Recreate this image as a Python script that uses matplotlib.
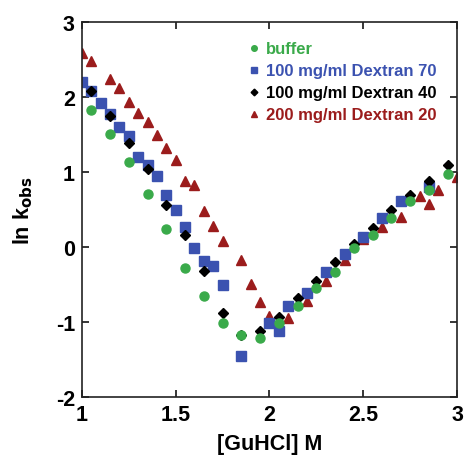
import matplotlib
matplotlib.use("Agg")
import matplotlib.pyplot as plt

plt.rcParams["font.family"] = ["Liberation Sans", "DejaVu Sans"]
plt.rcParams["font.weight"] = "bold"
plt.rcParams["axes.unicode_minus"] = False

# Unfolding rates, ln k_obs vs denaturant concentration
buffer_x = [1.05, 1.15, 1.25, 1.35, 1.45, 1.55, 1.65, 1.75, 1.85, 1.95, 2.05, 2.15,
            2.25, 2.35, 2.45, 2.55, 2.65, 2.75, 2.85, 2.95]
buffer_y = [1.82, 1.50, 1.13, 0.70, 0.24, -0.28, -0.66, -1.01, -1.17, -1.21, -1.02, -0.79,
            -0.55, -0.34, -0.01, 0.16, 0.38, 0.61, 0.75, 0.97]

dex70_x = [1.0, 1.05, 1.1, 1.15, 1.2, 1.25, 1.3, 1.35, 1.4, 1.45, 1.5, 1.55, 1.6, 1.65,
           1.7, 1.75, 1.85, 2.0, 2.05, 2.1, 2.2, 2.3, 2.4, 2.5, 2.6, 2.7, 2.85]
dex70_y = [2.20, 2.07, 1.92, 1.77, 1.59, 1.48, 1.20, 1.09, 0.94, 0.69, 0.49, 0.26, -0.01, -0.19,
           -0.25, -0.51, -1.45, -1.02, -1.12, -0.79, -0.62, -0.34, -0.10, 0.13, 0.38, 0.61, 0.80]

dex40_x = [1.05, 1.15, 1.25, 1.35, 1.45, 1.55, 1.65, 1.75, 1.85, 1.95, 2.05, 2.15,
           2.25, 2.35, 2.45, 2.55, 2.65, 2.75, 2.85, 2.95]
dex40_y = [2.08, 1.74, 1.38, 1.04, 0.55, 0.15, -0.32, -0.88, -1.17, -1.12, -0.93, -0.68,
           -0.46, -0.20, 0.04, 0.25, 0.49, 0.69, 0.87, 1.09]

dex20_x = [1.0, 1.05, 1.15, 1.2, 1.25, 1.3, 1.35, 1.4, 1.45, 1.5, 1.55, 1.6, 1.65, 1.7,
           1.75, 1.85, 1.9, 1.95, 2.0, 2.1, 2.2, 2.3, 2.4, 2.5, 2.6, 2.7, 2.8, 2.85, 2.9, 3.0]
dex20_y = [2.58, 2.47, 2.24, 2.12, 1.93, 1.78, 1.66, 1.49, 1.32, 1.15, 0.88, 0.82, 0.47, 0.28,
           0.08, -0.18, -0.49, -0.74, -0.92, -0.95, -0.72, -0.46, -0.18, 0.10, 0.26, 0.40, 0.68,
           0.57, 0.76, 0.93]

green = "#3aaa4a"
blue = "#3b52b0"
red = "#9b1c1c"

fig = plt.figure(figsize=(4.65, 4.60), dpi=100)
ax = fig.add_axes([0.176, 0.135, 0.807, 0.816])

h20, = ax.plot(dex20_x, dex20_y, "^", color=red, ms=7.5, ls="none",
               label="200 mg/ml Dextran 20")
h70, = ax.plot(dex70_x, dex70_y, "s", color=blue, ms=7.2, ls="none",
               label="100 mg/ml Dextran 70")
h40, = ax.plot(dex40_x, dex40_y, "D", color="black", ms=5.5, ls="none",
               label="100 mg/ml Dextran 40")
hbuf, = ax.plot(buffer_x, buffer_y, "o", color=green, ms=6.5, ls="none",
                label="buffer")

ax.set_xlim(1, 3)
ax.set_ylim(-2, 3)
ax.set_xticks([1, 1.5, 2, 2.5, 3])
ax.set_xticklabels(["1", "1.5", "2", "2.5", "3"])
ax.set_yticks([-2, -1, 0, 1, 2, 3])

ax.tick_params(direction="in", length=5, width=1.1, labelsize=15.5,
               top=True, right=True, pad=5)
for s in ax.spines.values():
    s.set_linewidth(1.2)
    s.set_color("#222222")

ax.set_xlabel("[GuHCl] M", fontsize=15.5, fontweight="bold", labelpad=6)
ax.set_ylabel(r"ln k$_{\mathbf{obs}}$", fontsize=15.5, fontweight="bold", labelpad=15)

leg = ax.legend(handles=[hbuf, h70, h40, h20], loc="upper left",
                bbox_to_anchor=(0.42, 0.965), frameon=False, fontsize=12,
                markerscale=0.62, handletextpad=0.2, handlelength=1.0,
                labelspacing=0.42, borderaxespad=0)
for txt, c in zip(leg.get_texts(), [green, blue, "black", red]):
    txt.set_color(c)
    txt.set_fontweight("bold")

fig.savefig("out.png", dpi=100)
